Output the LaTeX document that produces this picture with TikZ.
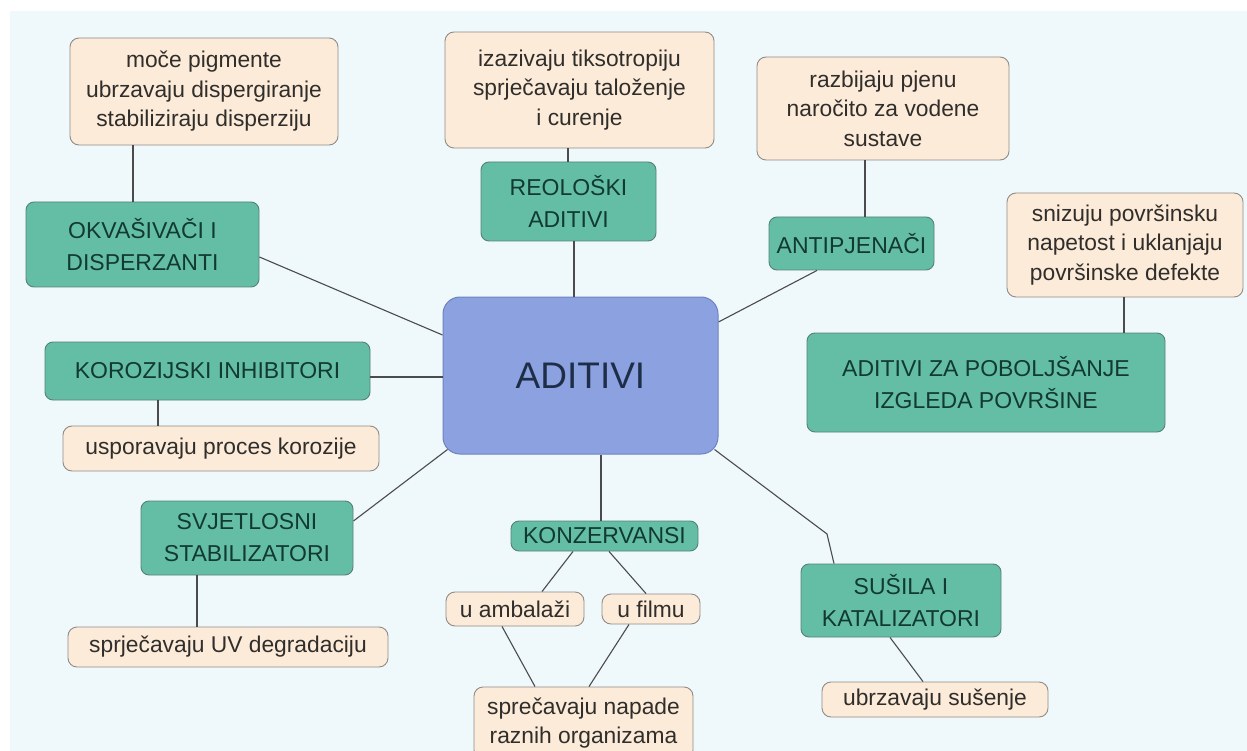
\documentclass[tikz,border=0pt]{standalone}
\usepackage{fontspec}
\setmainfont{Liberation Sans}
\usetikzlibrary{positioning}
\definecolor{bgblue}{RGB}{239,248,251}
\definecolor{gfill}{RGB}{100,190,165}
\definecolor{gdraw}{RGB}{84,130,118}
\definecolor{gtext}{RGB}{18,58,48}
\definecolor{ofill}{RGB}{253,235,218}
\definecolor{odraw}{RGB}{145,140,135}
\definecolor{otext}{RGB}{48,46,43}
\definecolor{cfill}{RGB}{140,162,224}
\definecolor{cdraw}{RGB}{110,130,192}
\definecolor{ctext}{RGB}{30,46,72}
\definecolor{lnk}{RGB}{75,75,75}
\tikzset{
  gbox/.style={draw=gdraw, line width=0.9pt, fill=gfill, rounded corners=8pt, inner sep=0pt, align=center, text=gtext,
    font=\fontsize{23}{32}\selectfont},
  obox/.style={draw=odraw, line width=0.9pt, fill=ofill, rounded corners=9pt, inner sep=0pt, align=center, text=otext,
    font=\fontsize{22.8}{29.5}\selectfont},
  cbox/.style={draw=cdraw, line width=1pt, fill=cfill, rounded corners=17pt, inner sep=0pt, align=center, text=ctext,
    font=\fontsize{37}{40}\selectfont},
  lnkline/.style={draw=lnk, line width=1.1pt}
}
\begin{document}
\begin{tikzpicture}[x=1pt,y=-1pt]
\useasboundingbox (0,0) rectangle (1247,751);
\clip (0,0) rectangle (1247,751);
\fill[white] (0,0) rectangle (1247,751);
\fill[bgblue] (10,11) rectangle (1247,751);

% central node
\node[cbox, minimum width=275pt, minimum height=157pt] (C) at (580.5,375.5) {ADITIVI};

% green nodes
\node[gbox, minimum width=233pt, minimum height=85pt] (G1) at (142.5,244.5) {OKVAŠIVAČI I\\DISPERZANTI};
\node[gbox, minimum width=175pt, minimum height=79pt] (G2) at (568.5,201.5) {REOLOŠKI\\ADITIVI};
\node[gbox, minimum width=165pt, minimum height=53pt] (G3) at (851.5,243.5) {ANTIPJENAČI};
\node[gbox, minimum width=358pt, minimum height=99pt] (G4) at (986,382.5) {ADITIVI ZA POBOLJŠANJE\\IZGLEDA POVRŠINE};
\node[gbox, minimum width=325pt, minimum height=58pt] (G5) at (207.5,371) {KOROZIJSKI INHIBITORI};
\node[gbox, minimum width=212pt, minimum height=74pt] (G6) at (247,538) {SVJETLOSNI\\STABILIZATORI};
\node[gbox, minimum width=187pt, minimum height=30pt] (G7) at (604.5,536) {KONZERVANSI};
\node[gbox, minimum width=200pt, minimum height=73pt] (G8) at (901,600.5) {SUŠILA I\\KATALIZATORI};

% orange nodes
\node[obox, minimum width=268pt, minimum height=107pt] (O1) at (204,91.5) {moče pigmente\\ubrzavaju dispergiranje\\stabiliziraju disperziju};
\node[obox, minimum width=269pt, minimum height=116pt] (O2) at (579.5,90) {izazivaju tiksotropiju\\sprječavaju taloženje\\i curenje};
\node[obox, minimum width=252pt, minimum height=103pt] (O3) at (883,108.5) {razbijaju pjenu\\naročito za vodene\\sustave};
\node[obox, minimum width=236pt, minimum height=104pt] (O4) at (1125,245) {snizuju površinsku\\napetost i uklanjaju\\površinske defekte};
\node[obox, minimum width=316pt, minimum height=45pt] (O5) at (221,448.5) {usporavaju proces korozije};
\node[obox, minimum width=320pt, minimum height=40pt] (O6) at (228,647) {sprječavaju UV degradaciju};
\node[obox, minimum width=138pt, minimum height=34pt] (O7) at (515,609) {u ambalaži};
\node[obox, minimum width=98pt, minimum height=30pt] (O8) at (651,609) {u filmu};
\node[obox, minimum width=219pt, minimum height=72pt] (O9) at (583.5,723) {sprečavaju napade\\raznih organizama};
\node[obox, minimum width=226pt, minimum height=35pt] (O10) at (935,699.5) {ubrzavaju sušenje};

\coordinate (bend) at (827,534);

% connectors
\draw[lnkline] ([xshift=-71pt]O1.south) -- ([xshift=-9.5pt]G1.north);
\draw[lnkline] ([yshift=-12.5pt]G1.east) -- ([yshift=40.5pt]C.west);
\draw[lnkline] ([xshift=-11.5pt]O2.south) -- ([xshift=-0.5pt]G2.north);
\draw[lnkline] ([xshift=5.5pt]G2.south) -- ([xshift=-6.5pt]C.north);
\draw[lnkline] ([xshift=-18pt]O3.south) -- ([xshift=13.5pt]G3.north);
\draw[lnkline] ([xshift=-34.5pt]G3.south) -- ([yshift=53.5pt]C.east);
\draw[lnkline] ([xshift=-1pt]O4.south) -- ([xshift=138pt]G4.north);
\draw[lnkline] ([yshift=-6pt]G5.east) -- ([yshift=-1.5pt]C.west);
\draw[lnkline] ([xshift=-49.5pt]G5.south) -- ([xshift=-63pt]O5.north);
\draw[lnkline] ([yshift=17pt]G6.east) -- ([xshift=5pt,yshift=5pt]C.south west);
\draw[lnkline] ([xshift=-50pt]G6.south) -- ([xshift=-31pt]O6.north);
\draw[lnkline] ([xshift=20.5pt]C.south) -- ([xshift=-3.5pt]G7.north);
\draw[lnkline] ([xshift=-31.5pt]G7.south) -- ([xshift=27pt]O7.north);
\draw[lnkline] ([xshift=4.5pt]G7.south) -- ([xshift=-5pt]O8.north);
\draw[lnkline] ([xshift=-13pt]O7.south) -- ([xshift=-48.5pt]O9.north);
\draw[lnkline] ([xshift=-22pt]O8.south) -- ([xshift=5.5pt]O9.north);
\draw[lnkline] ([xshift=-4pt,yshift=5pt]C.south east) -- (bend) -- ([xshift=-67pt]G8.north);
\draw[lnkline] ([xshift=-11pt]G8.south) -- ([xshift=-12pt]O10.north);
\end{tikzpicture}
\end{document}
